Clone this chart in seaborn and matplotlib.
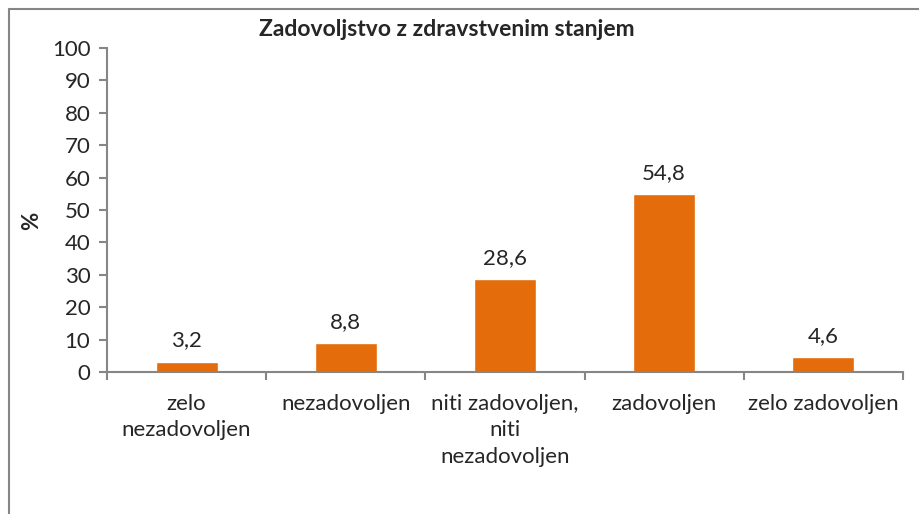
import matplotlib
matplotlib.use('Agg')
import matplotlib.pyplot as plt
import seaborn as sns
import pandas as pd
from matplotlib.lines import Line2D

# Data
categories = ['zelo\nnezadovoljen', 'nezadovoljen', 'niti zadovoljen,\nniti\nnezadovoljen',
              'zadovoljen', 'zelo zadovoljen']
values = [3.2, 8.8, 28.6, 54.8, 4.6]
yticks = list(range(0, 101, 10))

df = pd.DataFrame({'kategorija': categories, 'odstotek': values})

sns.set_style('white')
plt.rcParams['font.family'] = ['Lato', 'DejaVu Sans']
fs = 16

fig = plt.figure(figsize=(9.2, 5.14), dpi=100)
ax = fig.add_axes([107 / 920, 1 - 372 / 514, (903 - 107) / 920, (372 - 48) / 514])

sns.barplot(data=df, x='kategorija', y='odstotek', color='#E46C0A', saturation=1,
            width=0.39, ax=ax)

# value labels with decimal comma
for i, v in enumerate(values):
    ax.text(i, v + 3.5, f'{v:.1f}'.replace('.', ','), ha='center', va='bottom', fontsize=fs)

ax.set_ylim(0, 100)
ax.set_xlim(-0.5, len(categories) - 0.5)
ax.set_yticks(yticks)
ax.set_yticklabels([str(t) for t in yticks], fontsize=fs)
ax.set_xticks(range(len(categories)))
ax.set_xticklabels(categories, fontsize=fs, linespacing=1.42)
ax.set_xticks([i - 0.5 for i in range(len(categories) + 1)], minor=True)
ax.tick_params(axis='x', which='major', bottom=False, pad=12)
ax.tick_params(axis='x', which='minor', bottom=True, length=6, width=1.5, color='#868686')
ax.tick_params(axis='y', left=True, length=6, width=1.5, color='#868686', pad=6)
ax.set_xlabel('')
ax.set_ylabel('%', fontsize=fs, fontweight='bold')
ax.yaxis.set_label_coords(-0.082, 0.466)

for s in ['top', 'right']:
    ax.spines[s].set_visible(False)
for s in ['left', 'bottom']:
    ax.spines[s].set_color('#868686')
    ax.spines[s].set_linewidth(1.5)

fig.text(447 / 920, 1 - 30 / 514, 'Zadovoljstvo z zdravstvenim stanjem', ha='center', va='center',
         fontsize=16.5, fontweight='bold')

# outer chart frame (right and bottom edges lie outside the image)
fx, fy = 8.5 / 920, 1 - 8.5 / 514
fig.add_artist(Line2D([fx, fx], [0, fy], transform=fig.transFigure, color='#868686', lw=1.5))
fig.add_artist(Line2D([fx, 1], [fy, fy], transform=fig.transFigure, color='#868686', lw=1.5))

fig.savefig('out.png', dpi=100)
